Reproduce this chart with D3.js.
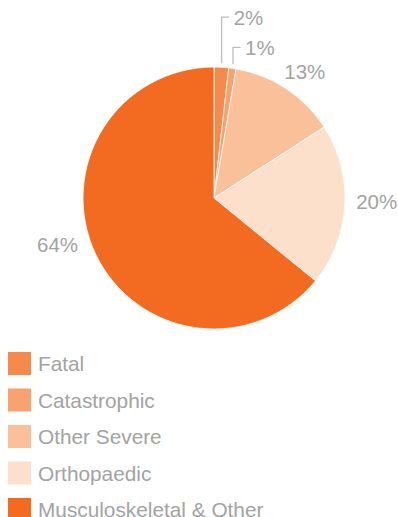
<!DOCTYPE html>
<html>
<head>
<meta charset="utf-8">
<script src="https://cdn.jsdelivr.net/npm/d3@7"></script>
<style>
  body { margin: 0; background: #fff; }
  text { font-family: "Liberation Sans", Arial, sans-serif; fill: #a3a3a3; }
</style>
</head>
<body>
<svg id="chart" width="398" height="517"></svg>
<script>
// injury categories, share of claims (%)
var categories = ["Fatal", "Catastrophic", "Other Severe", "Orthopaedic", "Musculoskeletal & Other"];
var shares = [1.8, 0.9, 13.2, 20.0, 64.1];
var colours = ["#f58a4b", "#f7a26f", "#fac09a", "#fde0cc", "#f26b21"];

// small slices get a leader line going straight up (px of lift)
var leaderLift = { "Fatal": 46, "Catastrophic": 17 };
// label nudges for the big slices
var labelNudge = { "Other Severe": [2, 8], "Orthopaedic": [2, -5], "Musculoskeletal & Other": [-11, -22] };

var svg = d3.select("#chart");
var cx = 214, cy = 198, radius = 131;

var data = categories.map(function(c, i) {
	return { name: c, value: shares[i], color: colours[i] };
});

var pie = d3.pie().sort(null).value(function(d) { return d.value; });
var arc = d3.arc().innerRadius(0).outerRadius(radius);
var labelArc = d3.arc().innerRadius(161).outerRadius(161);
var fmt = function(v) { return Math.round(v) + "%"; };

var g = svg.append("g").attr("transform", "translate(" + cx + "," + cy + ")");
var arcs = pie(data);

g.selectAll(".slice")
	.data(arcs)
	.enter().append("path")
	.attr("class", "slice")
	.attr("d", arc)
	.attr("fill", function(d) { return d.data.color; })
	.attr("stroke", "#fff")
	.attr("stroke-width", 0.8);

arcs.forEach(function(d) {
	var mid = (d.startAngle + d.endAngle) / 2;
	var name = d.data.name;
	if (leaderLift[name] !== undefined) {
		var x0 = Math.sin(mid) * (radius + 4);
		var y0 = -Math.cos(mid) * (radius + 4);
		var y1 = y0 - leaderLift[name];
		g.append("path")
			.attr("d", "M" + x0 + "," + y0 + "V" + y1 + "H" + (x0 + 7.5))
			.attr("fill", "none")
			.attr("stroke", "#bdbdbd")
			.attr("stroke-width", 1.3);
		g.append("text")
			.attr("x", x0 + 12)
			.attr("y", y1 + 8)
			.style("font-size", "20.5px")
			.text(fmt(d.data.value));
	} else {
		var c = labelArc.centroid(d);
		var n = labelNudge[name] || [0, 0];
		g.append("text")
			.attr("x", c[0] + n[0])
			.attr("y", c[1] + n[1])
			.attr("dy", "0.36em")
			.attr("text-anchor", "middle")
			.style("font-size", "20.5px")
			.text(fmt(d.data.value));
	}
});

// legend
var legendY = d3.scalePoint().domain(categories).range([352, 498]);
var legend = svg.selectAll(".legend")
	.data(data)
	.enter().append("g")
	.attr("class", "legend")
	.attr("transform", function(d) { return "translate(8," + legendY(d.name) + ")"; });

legend.append("rect")
	.attr("width", 23)
	.attr("height", 23)
	.attr("fill", function(d) { return d.color; });

legend.append("text")
	.attr("x", 30)
	.attr("y", 19)
	.style("font-size", "20.8px")
	.text(function(d) { return d.name; });
</script>
</body>
</html>
